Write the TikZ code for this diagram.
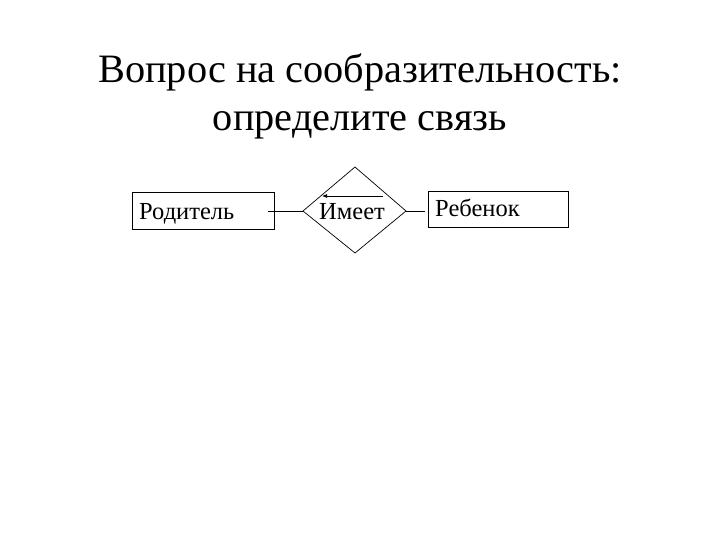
\documentclass[tikz,border=0pt]{standalone}
\usepackage{fontspec}
\setmainfont{Liberation Serif}
\usetikzlibrary{shapes.geometric,arrows.meta}
\begin{document}
\begin{tikzpicture}[x=1pt,y=-1pt,
  title/.style={font=\fontsize{40.3}{48}\selectfont, align=center, inner sep=0pt},
  entity/.style={draw, line width=0.7pt, minimum width=142pt, minimum height=37pt, inner sep=0pt},
  lbl/.style={font=\fontsize{24.5}{28}\selectfont, inner sep=0pt, anchor=base west},
  conn/.style={line width=0.7pt}]
\useasboundingbox (0,0) rectangle (720,540);
\node[title, anchor=base] (t1) at (360,83) {Вопрос на сообразительность:};
\node[title, anchor=base] (t2) at (360,131) {определите связь};
\node[entity] (par) at (203.5,211) {};
\node[lbl] (parl) at (139,220) {Родитель};
\node[entity, minimum width=140pt, minimum height=36pt] (ch) at (498,209) {};
\node[lbl] (chl) at (435,217) {Ребенок};
\draw[conn] (303,211) coordinate (dl) -- (355,167) coordinate (dt) -- (406,211) coordinate (dr) -- (355,253) coordinate (db) -- cycle;
\node[lbl] (rl) at (319,219) {Имеет};
\coordinate (pe) at (268,211);
\coordinate (ce) at (425,211);
\draw[conn] (pe) -- (dl);
\draw[conn] (dr) -- (ce);
\coordinate (as) at (383,196);
\coordinate (ae) at (322,196);
\draw[conn, -{Latex[length=5pt,width=4pt]}] (as) -- (ae);
\end{tikzpicture}
\end{document}
